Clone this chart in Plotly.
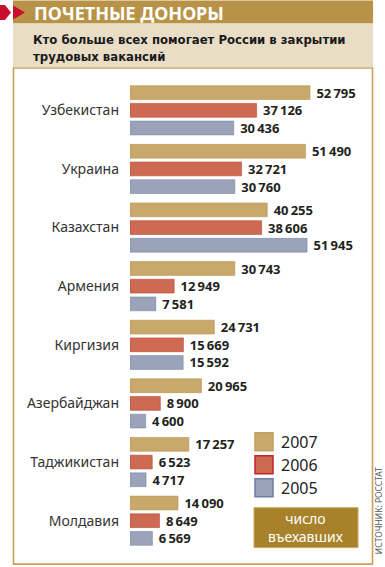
import plotly.graph_objects as go

countries = ["Узбекистан", "Украина", "Казахстан", "Армения", "Киргизия",
             "Азербайджан", "Таджикистан", "Молдавия"]
years = ["2007", "2006", "2005"]
v2007 = [52795, 51490, 40255, 30743, 24731, 20965, 17257, 14090]
v2006 = [37126, 32721, 38606, 12949, 15669, 8900, 6523, 8649]
v2005 = [30436, 30760, 51945, 7581, 15592, 4600, 4717, 6569]
series = [v2007, v2006, v2005]

title = "ПОЧЕТНЫЕ ДОНОРЫ"
subtitle = "Кто больше всех помогает России в закрытии<br>трудовых вакансий"
unit_label = "число<br>въехавших"
source = "ИСТОЧНИК: РОССТАТ"

fills = ["#c8a96b", "#cf6a52", "#9aa3ba"]
edges = ["#b8944f", "#b84a36", "#7d88a4"]
sw_edges = ["#c4a060", "#c2242c", "#6f7fa3"]

W, H = 385, 567
L, R, T, B = 130, 12, 80.6, 16.6
PW, PH = W - L - R, H - T - B
XMAX = PW * 52795 / 180.0


def px(p):
    return (p - L) / PW


def py(p):
    return 1 - (p - T) / PH


def fmt(v):
    s = f"{v:,}".replace(",", "\u2009")
    return " " + s


fig = go.Figure()
for name, vals, f, e in zip(years, series, fills, edges):
    fig.add_trace(go.Bar(
        name=name, y=countries, x=vals, orientation="h",
        marker=dict(color=f, line=dict(color=e, width=0.6)),
        text=[fmt(v) for v in vals], textposition="outside",
        textfont=dict(family="Noto Sans", size=13, color="#231f20", weight="bold"),
        constraintext="none", cliponaxis=False, hoverinfo="skip",
    ))

shapes = []
shapes.append(dict(type="rect", xref="paper", yref="paper",
                   x0=px(13.5), x1=px(372.5), y0=py(67.5), y1=py(564.5),
                   fillcolor="white", line=dict(color="#c9a15a", width=1.6),
                   layer="below"))
shapes.append(dict(type="rect", xref="paper", yref="paper",
                   x0=px(13), x1=px(373), y0=py(0), y1=py(23),
                   fillcolor="#b89347", line=dict(width=0)))
shapes.append(dict(type="rect", xref="paper", yref="paper",
                   x0=px(13), x1=px(373), y0=py(23), y1=py(67),
                   fillcolor="#e9ddc6", line=dict(width=0)))


def path(pts):
    return "M " + " L ".join(f"{px(a):.5f},{py(b):.5f}" for a, b in pts) + " Z"


shapes.append(dict(type="path", xref="paper", yref="paper",
                   path=path([(0, 4.5), (5, 4.5), (11, 12), (5, 19.5), (0, 19.5)]),
                   fillcolor="#c8102e", line=dict(width=0)))
shapes.append(dict(type="path", xref="paper", yref="paper",
                   path=path([(13, 5), (25, 12), (13, 19)]),
                   fillcolor="#c8102e", line=dict(width=0)))
sw_y = [433, 456, 479]
for yy, f, e in zip(sw_y, fills, sw_edges):
    shapes.append(dict(type="rect", xref="paper", yref="paper",
                       x0=px(255), x1=px(273), y0=py(yy), y1=py(yy + 18),
                       fillcolor=f, line=dict(color=e, width=1.5)))
shapes.append(dict(type="rect", xref="paper", yref="paper",
                   x0=px(254), x1=px(358), y0=py(508), y1=py(548),
                   fillcolor="#a8822a", line=dict(color="#c9a860", width=1)))

annotations = [
    dict(text=title, xref="paper", yref="paper", x=px(32), y=py(12),
         xanchor="left", yanchor="middle", showarrow=False,
         font=dict(family="Noto Sans", size=18, color="white", weight="bold")),
    dict(text=subtitle, xref="paper", yref="paper", x=px(31), y=py(47.5),
         xanchor="left", yanchor="middle", showarrow=False, align="left",
         font=dict(family="Liberation Sans Narrow, DejaVu Sans Condensed, Roboto Condensed, Roboto",
                   size=13, color="#1a1a1a", weight="bold")),
    dict(text=unit_label, xref="paper", yref="paper", x=px(306), y=py(528),
         xanchor="center", yanchor="middle", showarrow=False, align="center",
         font=dict(family="Noto Sans", size=14, color="white")),
    dict(text=source, xref="paper", yref="paper", x=px(378.5), y=py(511),
         xanchor="center", yanchor="middle", showarrow=False, textangle=-90,
         font=dict(family="Noto Sans", size=8.5, color="#5a5a5a")),
]
for yy, name in zip(sw_y, years):
    annotations.append(dict(text=name, xref="paper", yref="paper",
                            x=px(279), y=py(yy + 9.5), xanchor="left",
                            yanchor="middle", showarrow=False,
                            font=dict(family="Noto Sans", size=16, color="#222222")))

fig.update_layout(
    width=W, height=H, margin=dict(l=L, r=R, t=T, b=B, autoexpand=False),
    paper_bgcolor="white", plot_bgcolor="rgba(0,0,0,0)",
    barmode="group", bargap=0.095, bargroupgap=0.22,
    showlegend=False, shapes=shapes, annotations=annotations,
    xaxis=dict(range=[0, XMAX], visible=False, fixedrange=True),
    yaxis=dict(autorange="reversed", showgrid=False, showline=False,
               ticks="", ticklabelstandoff=10,
               tickfont=dict(family="Noto Sans", size=14, color="#333333"),
               fixedrange=True),
)

fig.write_html("out.html", config={"displayModeBar": False},
               post_script="document.body.style.margin='0';document.body.style.overflow='hidden';")
